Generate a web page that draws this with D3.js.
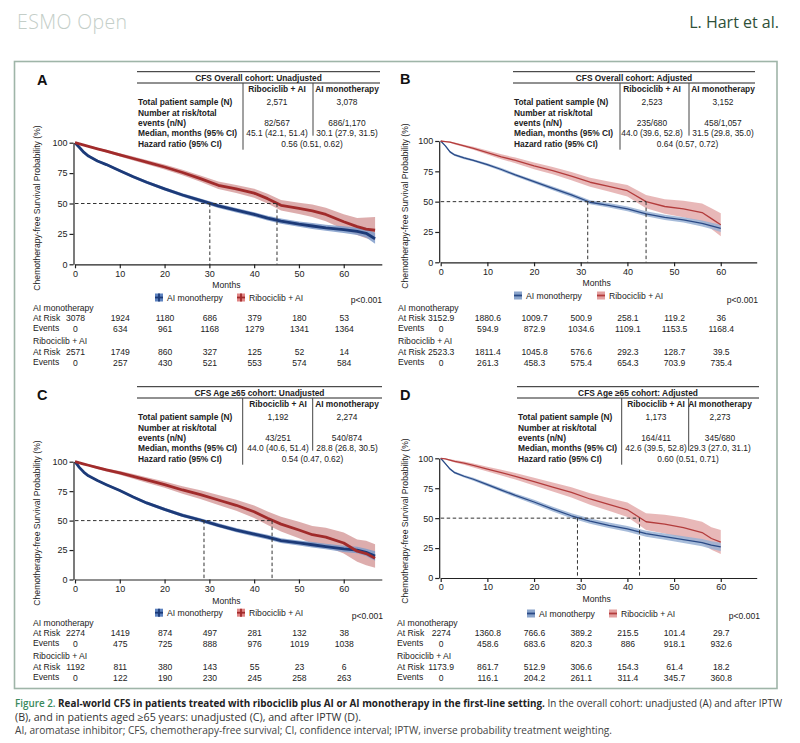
<!DOCTYPE html>
<html>
<head>
<meta charset="utf-8">
<script src="https://cdn.jsdelivr.net/npm/d3@7"></script>
<style>
  body { margin: 0; background: #fff; }
  svg text { font-family: "Liberation Sans", Arial, sans-serif; fill: #222; }
  svg text.serifless { font-family: "Open Sans", sans-serif; }
</style>
</head>
<body>
<svg id="fig" width="800" height="743"></svg>
<script>
// ---- shared ticks
var monthTicks = [0, 10, 20, 30, 40, 50, 60];
var survTicks = [0, 25, 50, 75, 100];
var tableRowLabels = ["Total patient sample (N)", "Number at risk/total", "events (n/N)", "Median, months (95% CI)", "Hazard ratio (95% CI)"];
var armNames = ["Ribociclib + AI", "AI monotherapy"];
var legendNames = ["AI monotherpy", "Ribociclib + AI"];

// ---- A: overall cohort, unadjusted
var aMonths = [0, 1, 2, 3, 5, 7, 10, 13, 16, 20, 24, 28, 32, 36, 40, 43, 46, 50, 53, 56, 60, 63, 65, 67];
var aAiSurv = [100, 96, 92, 89, 85, 82, 77, 72, 67.5, 62, 57, 52.5, 48, 44.5, 41, 38, 35.5, 33, 31.5, 30, 28.5, 27, 25.5, 21];
var aAiLo = [100, 95.5, 91.3, 88.2, 84.1, 81, 75.9, 70.8, 66.2, 60.6, 55.5, 50.9, 46.3, 42.7, 39.1, 36, 33.4, 30.8, 29.1, 27.5, 25.8, 24, 22, 17];
var aAiHi = [100, 96.5, 92.7, 89.8, 85.9, 83, 78.1, 73.2, 68.8, 63.4, 58.5, 54.1, 49.7, 46.3, 42.9, 40, 37.6, 35.2, 33.9, 32.5, 31.2, 30, 29, 26];
var aRibSurv = [100, 99, 98, 97, 95, 93, 90, 87, 84, 80, 75.5, 70.5, 65, 62, 58.5, 54, 48.5, 46, 44, 41, 35, 31, 29, 28];
var aRibLo = [100, 98.6, 97.4, 96.3, 94.1, 91.9, 88.6, 85.4, 82.2, 78, 73.2, 67.9, 62, 58.7, 54.8, 50, 44.2, 41.3, 38.9, 35.4, 28.8, 24, 21.5, 20];
var aRibHi = [100, 99.4, 98.6, 97.7, 95.9, 94.1, 91.4, 88.6, 85.8, 82, 77.8, 73.1, 68, 65.3, 62.2, 58, 52.8, 50.7, 49.1, 46.6, 41.2, 38, 38.5, 39];
var aMedians = [45.1, 30.1];
var aTitle = "CFS Overall cohort: Unadjusted";
var aN = ["2,571", "3,078"];
var aRiskEvents = ["82/567", "686/1,170"];
var aMedianText = ["45.1 (42.1, 51.4)", "30.1 (27.9, 31.5)"];
var aHazard = "0.56 (0.51, 0.62)";
var aRiskAI = [3078, 1924, 1180, 686, 379, 180, 53];
var aEventsAI = [0, 634, 961, 1168, 1279, 1341, 1364];
var aRiskRib = [2571, 1749, 860, 327, 125, 52, 14];
var aEventsRib = [0, 257, 430, 521, 553, 574, 584];

// ---- B: overall cohort, adjusted
var bMonths = [0, 1, 2, 3, 5, 7, 10, 13, 16, 20, 24, 28, 32, 36, 40, 44, 48, 52, 56, 58, 60];
var bAiSurv = [100, 96, 91, 88.5, 86, 84, 80.5, 76.5, 72, 66.5, 61, 55.5, 49.5, 47, 44, 40, 37, 35, 32, 30, 28];
var bAiLo = [100, 95.5, 90.2, 87.6, 85, 83, 79.4, 75.3, 70.7, 65.1, 59.5, 53.9, 47.8, 45.2, 42.1, 38, 34.9, 32.8, 29.6, 27.4, 25];
var bAiHi = [100, 96.5, 91.8, 89.4, 87, 85, 81.6, 77.7, 73.3, 67.9, 62.5, 57.1, 51.2, 48.8, 45.9, 42, 39.1, 37.2, 34.4, 32.6, 31];
var bRibSurv = [100, 99.5, 99, 98, 96, 94, 90.5, 87, 84, 79.5, 75.5, 71, 66, 62.5, 59, 50, 46, 44, 41, 36, 31];
var bRibLo = [100, 99.2, 98.5, 97.2, 95, 92.7, 88.8, 85, 81.7, 76.8, 72.5, 67.6, 62.2, 58.3, 54.2, 44.5, 40, 37.2, 33.5, 27.5, 21.5];
var bRibHi = [100, 99.8, 99.5, 98.8, 97, 95.3, 92.2, 89, 86.3, 82.2, 78.5, 74.4, 69.8, 66.7, 63.8, 55.5, 52, 50.8, 48.5, 44.5, 40.5];
var bMedians = [44.0, 31.5];
var bTitle = "CFS Overall cohort: Adjusted";
var bN = ["2,523", "3,152"];
var bRiskEvents = ["235/680", "458/1,057"];
var bMedianText = ["44.0 (39.6, 52.8)", "31.5 (29.8, 35.0)"];
var bHazard = "0.64 (0.57, 0.72)";
var bRiskAI = ["3152.9", "1880.6", "1009.7", "500.9", "258.1", "119.2", "36"];
var bEventsAI = ["0", "594.9", "872.9", "1034.6", "1109.1", "1153.5", "1168.4"];
var bRiskRib = ["2523.3", "1811.4", "1045.8", "576.6", "292.3", "128.7", "39.5"];
var bEventsRib = ["0", "261.3", "458.3", "575.4", "654.3", "703.9", "735.4"];

// ---- C: age >=65, unadjusted
var cMonths = [0, 1, 2, 3, 5, 7, 10, 13, 16, 20, 24, 28, 32, 36, 40, 43, 46, 50, 53, 56, 60, 63, 65, 67];
var cAiSurv = [100, 95, 91, 88, 84, 80.5, 75.5, 70, 65, 59.5, 54.5, 50.5, 46, 42, 38.5, 36, 33, 31, 29.5, 28, 26, 25, 23, 20];
var cAiLo = [100, 94.5, 90.3, 87.2, 83.1, 79.5, 74.4, 68.8, 63.7, 58.1, 53, 48.9, 44.3, 40.2, 36.6, 34, 30.9, 28.8, 27.2, 25.6, 23.4, 22.2, 20, 16];
var cAiHi = [100, 95.5, 91.7, 88.8, 84.9, 81.5, 76.6, 71.2, 66.3, 60.9, 56, 52.1, 47.7, 43.8, 40.4, 38, 35.1, 33.2, 31.8, 30.4, 28.6, 27.8, 26, 24];
var cRibSurv = [100, 99, 98, 97, 95, 93, 90.5, 87.5, 84.5, 80.5, 76, 72, 67.5, 63, 57.5, 52, 47, 42, 38, 36, 31, 24, 22, 18];
var cRibLo = [100, 98.6, 97.4, 96.2, 93.9, 91.7, 88.9, 85.5, 82.2, 77.8, 72.8, 68.3, 63.3, 58.3, 52.2, 46.2, 40.7, 35, 30.5, 28, 22, 15, 12, 10];
var cRibHi = [100, 99.4, 98.6, 97.8, 96.1, 94.3, 92.1, 89.5, 86.8, 83.2, 79.2, 75.7, 71.7, 67.7, 62.8, 57.8, 53.3, 49, 45.5, 44, 40, 34, 33, 30];
var cMedians = [44.0, 28.8];
var cTitle = "CFS Age \u226565 cohort: Unadjusted";
var cN = ["1,192", "2,274"];
var cRiskEvents = ["43/251", "540/874"];
var cMedianText = ["44.0 (40.6, 51.4)", "28.8 (26.8, 30.5)"];
var cHazard = "0.54 (0.47, 0.62)";
var cRiskAI = [2274, 1419, 874, 497, 281, 132, 38];
var cEventsAI = [0, 475, 725, 888, 976, 1019, 1038];
var cRiskRib = [1192, 811, 380, 143, 55, 23, 6];
var cEventsRib = [0, 122, 190, 230, 245, 258, 263];

// ---- D: age >=65, adjusted
var dMonths = [0, 1, 2, 3, 5, 7, 10, 13, 16, 20, 24, 28, 32, 36, 40, 44, 48, 52, 56, 58, 60];
var dAiSurv = [100, 95.5, 91, 88, 85, 82.5, 78, 73.5, 69, 63.5, 57.5, 52, 47.5, 44, 41, 37, 34.5, 32, 29.5, 27.5, 26];
var dAiLo = [100, 95, 90.2, 87, 83.9, 81.3, 76.7, 72, 67.4, 61.7, 55.5, 49.9, 45.3, 41.7, 38.6, 34.5, 31.9, 29.2, 26.5, 24.3, 22.5];
var dAiHi = [100, 96, 91.8, 89, 86.1, 83.7, 79.3, 75, 70.6, 65.3, 59.5, 54.1, 49.7, 46.3, 43.4, 39.5, 37.1, 34.8, 32.5, 30.7, 29.5];
var dRibSurv = [100, 99.5, 98.5, 97.5, 96, 94, 91, 88, 85, 80.5, 76, 71.5, 66, 61.5, 57, 47, 45, 42, 38, 33, 30];
var dRibLo = [100, 99.1, 97.8, 96.5, 94.7, 92.4, 89, 85.6, 82.2, 77.2, 72.2, 67.2, 61.2, 56.1, 51, 40, 37.2, 33.5, 29, 23.5, 20];
var dRibHi = [100, 99.9, 99.2, 98.5, 97.3, 95.6, 93, 90.4, 87.8, 83.8, 79.8, 75.8, 70.8, 66.9, 63, 54, 52.8, 50.5, 47, 42.5, 40];
var dMedians = [42.6, 29.3];
var dTitle = "CFS Age \u226565 cohort: Adjusted";
var dN = ["1,173", "2,273"];
var dRiskEvents = ["164/411", "345/680"];
var dMedianText = ["42.6 (39.5, 52.8)", "29.3 (27.0, 31.1)"];
var dHazard = "0.60 (0.51, 0.71)";
var dRiskAI = ["2274", "1360.8", "766.6", "389.2", "215.5", "101.4", "29.7"];
var dEventsAI = ["0", "458.6", "683.6", "820.3", "886", "918.1", "932.6"];
var dRiskRib = ["1173.9", "861.7", "512.9", "306.6", "154.3", "61.4", "18.2"];
var dEventsRib = ["0", "116.1", "204.2", "261.1", "311.4", "345.7", "360.8"];

var svg = d3.select("#fig");

// unadjusted panels: thick curves (dense censor marks); adjusted: thin lines with CI bands
var styles = {
  unadj: { ai: "#1c3a78", rib: "#a12b2b", aiBand: "#7f9bc9", ribBand: "#cf8a8a", width: 2.8, aiBox: "#5d82bf", ribBox: "#e08585" },
  adj: { ai: "#2a4a86", rib: "#b33c3c", aiBand: "#98b0d4", ribBand: "#e2a6a6", width: 1.3, aiBox: "#8aa4cb", ribBox: "#e3a0a0" }
};

function drawPanel(o) {
  var st = styles[o.kind];
  var x = d3.scaleLinear().domain([0, o.xMax]).range([o.x0, o.x1]);
  var y = d3.scaleLinear().domain([0, 100]).range([o.yBot, o.yTop]);
  var g = svg.append("g");

  g.append("text").attr("x", o.letterX).attr("y", o.letterY).text(o.letter)
    .style("font-size", "14.5px").style("font-weight", "bold").style("fill", "#111");

  // summary table
  var t = o.table, T = t.top;
  g.append("line").attr("x1", t.left).attr("x2", t.right).attr("y1", T).attr("y2", T).attr("stroke", "#222").attr("stroke-width", 1);
  g.append("line").attr("x1", t.left).attr("x2", t.right).attr("y1", T + 11.3).attr("y2", T + 11.3).attr("stroke", "#222").attr("stroke-width", 1);
  g.append("line").attr("x1", t.sep1).attr("x2", t.sep1).attr("y1", T + 11.3).attr("y2", T + 78).attr("stroke", "#444").attr("stroke-width", 1);
  g.append("line").attr("x1", t.sep2).attr("x2", t.sep2).attr("y1", T + 11.3).attr("y2", T + 64).attr("stroke", "#444").attr("stroke-width", 1);
  var tb = g.append("g").style("font-size", "8.4px");
  tb.append("text").attr("x", (t.left + t.right) / 2).attr("y", T + 6.3).attr("dy", "0.35em")
    .attr("text-anchor", "middle").style("font-weight", "bold").text(o.title);
  tb.selectAll("text.arm").data(armNames).enter().append("text").attr("class", "arm")
    .attr("x", function(d, i) { return i ? t.c2 : t.c1; }).attr("y", T + 17.5).attr("dy", "0.35em")
    .attr("text-anchor", "middle").style("font-weight", "bold").text(function(d) { return d; });
  var rowY = [30, 41, 51, 61, 72.5];
  tb.selectAll("text.rowlab").data(tableRowLabels).enter().append("text").attr("class", "rowlab")
    .attr("x", t.left + 1).attr("y", function(d, i) { return T + rowY[i]; }).attr("dy", "0.35em")
    .style("font-weight", "bold").text(function(d) { return d; });
  [[o.n, 0], [o.riskEvents, 2], [o.medianText, 3]].forEach(function(r) {
    r[0].forEach(function(v, i) {
      tb.append("text").attr("x", i ? t.c2 : t.c1).attr("y", T + rowY[r[1]]).attr("dy", "0.35em")
        .attr("text-anchor", "middle").text(v);
    });
  });
  tb.append("text").attr("x", (t.c1 + t.c2) / 2).attr("y", T + rowY[4]).attr("dy", "0.35em")
    .attr("text-anchor", "middle").text(o.hazard);

  // CI bands and curves
  var area = d3.area().x(function(d) { return x(d[0]); }).y0(function(d) { return y(d[1]); }).y1(function(d) { return y(d[2]); });
  var line = d3.line().x(function(d) { return x(d[0]); }).y(function(d) { return y(d[1]); });
  function band(lo, hi) { return o.months.map(function(m, i) { return [m, lo[i], hi[i]]; }); }
  function curve(s) { return o.months.map(function(m, i) { return [m, s[i]]; }); }
  g.append("path").attr("d", area(band(o.ribLo, o.ribHi))).attr("fill", st.ribBand).attr("opacity", o.kind == "adj" ? 0.8 : 0.7);
  g.append("path").attr("d", area(band(o.aiLo, o.aiHi))).attr("fill", st.aiBand).attr("opacity", 0.85);
  g.append("path").attr("d", line(curve(o.aiSurv))).attr("fill", "none").attr("stroke", st.ai).attr("stroke-width", st.width).attr("stroke-linejoin", "round");
  g.append("path").attr("d", line(curve(o.ribSurv))).attr("fill", "none").attr("stroke", st.rib).attr("stroke-width", st.width).attr("stroke-linejoin", "round");

  // median guides
  var dash = "3.5,2.5";
  g.append("line").attr("x1", x(0)).attr("x2", x(o.medians[0])).attr("y1", y(50)).attr("y2", y(50))
    .attr("stroke", "#333").attr("stroke-width", 1).attr("stroke-dasharray", dash);
  g.selectAll("line.med").data(o.medians).enter().append("line").attr("class", "med")
    .attr("x1", function(d) { return x(d); }).attr("x2", function(d) { return x(d); })
    .attr("y1", y(50)).attr("y2", y(0))
    .attr("stroke", "#333").attr("stroke-width", 1).attr("stroke-dasharray", dash);

  // axes
  var ya = g.append("g").attr("transform", "translate(" + (x(0) - 1.5) + ",0)")
    .call(d3.axisLeft(y).tickValues(survTicks).tickSize(4).tickSizeOuter(0).tickPadding(2));
  var xa = g.append("g").attr("transform", "translate(0," + y(0) + ")")
    .call(d3.axisBottom(x).tickValues(monthTicks).tickSize(4).tickSizeOuter(0).tickPadding(2));
  [ya, xa].forEach(function(a) {
    a.selectAll("path,line").attr("stroke", "#222").attr("stroke-width", 1.2);
    a.selectAll("text").style("font-size", "9px").style("font-family", "Liberation Sans, Arial, sans-serif").attr("fill", "#333");
  });
  g.append("text").attr("x", (o.x0 + o.x1) / 2 - 2).attr("y", y(0) + 21).attr("dy", "0.35em").attr("text-anchor", "middle")
    .style("font-size", "8.6px").text("Months");
  g.append("text").attr("transform", "translate(" + o.yLabX + "," + o.yLabY + ") rotate(-90)")
    .attr("text-anchor", "middle").attr("dy", "0.35em").style("font-size", "8.6px").attr("fill", "#333")
    .text("Chemotherapy-free Survival Probability (%)");

  // legend
  var lg = g.append("g").style("font-size", "8.6px");
  [[o.legendX[0], st.aiBox, st.ai, legendNames[0]], [o.legendX[1], st.ribBox, st.rib, legendNames[1]]].forEach(function(l) {
    lg.append("rect").attr("x", l[0]).attr("y", o.legendY - 4).attr("width", 8).attr("height", 8).attr("fill", l[1]);
    lg.append("line").attr("x1", l[0]).attr("x2", l[0] + 8).attr("y1", o.legendY).attr("y2", o.legendY).attr("stroke", l[2]).attr("stroke-width", 1.8);
    if (o.kind == "unadj") {
      lg.append("line").attr("x1", l[0] + 4).attr("x2", l[0] + 4).attr("y1", o.legendY - 4).attr("y2", o.legendY + 4).attr("stroke", l[2]).attr("stroke-width", 1.8);
    }
    lg.append("text").attr("x", l[0] + 12).attr("y", o.legendY).attr("dy", "0.35em").text(l[3]);
  });
  g.append("text").attr("x", o.pX).attr("y", o.pY).attr("dy", "0.35em").attr("text-anchor", "end")
    .style("font-size", "8.6px").text("p<0.001");

  // numbers at risk
  var rk = g.append("g").style("font-size", "8.6px");
  var R = o.riskTop;
  var rowsY = [0, 10, 20.8, 32.5, 43.5, 55];
  rk.append("text").attr("x", o.riskLabX).attr("y", R + rowsY[0]).attr("dy", "0.35em").text("AI monotherapy");
  rk.append("text").attr("x", o.riskLabX).attr("y", R + rowsY[1]).attr("dy", "0.35em").text("At Risk");
  rk.append("text").attr("x", o.riskLabX).attr("y", R + rowsY[2] - 1).attr("dy", "0.35em").text("Events");
  rk.append("text").attr("x", o.riskLabX).attr("y", R + rowsY[3]).attr("dy", "0.35em").text("Ribociclib + AI");
  rk.append("text").attr("x", o.riskLabX).attr("y", R + rowsY[4]).attr("dy", "0.35em").text("At Risk");
  rk.append("text").attr("x", o.riskLabX).attr("y", R + rowsY[5] - 1).attr("dy", "0.35em").text("Events");
  [[o.riskAI, 1], [o.eventsAI, 2], [o.riskRib, 4], [o.eventsRib, 5]].forEach(function(r) {
    rk.selectAll(null).data(r[0]).enter().append("text")
      .attr("x", function(d, i) { return x(monthTicks[i]) + 0.5; })
      .attr("y", R + rowsY[r[1]]).attr("dy", "0.35em").attr("text-anchor", "middle")
      .text(function(d) { return d; });
  });
}

drawPanel({
  kind: "unadj", letter: "A", letterX: 37, letterY: 85,
  x0: 75, x1: 381.8, xMax: 68.5, yBot: 264.3, yTop: 142.7, yLabX: 37, yLabY: 208,
  table: { top: 71.7, left: 137, right: 380, sep1: 243, sep2: 313, c1: 277, c2: 347 },
  title: aTitle, n: aN, riskEvents: aRiskEvents, medianText: aMedianText, hazard: aHazard,
  months: aMonths, aiSurv: aAiSurv, aiLo: aAiLo, aiHi: aAiHi, ribSurv: aRibSurv, ribLo: aRibLo, ribHi: aRibHi, medians: aMedians,
  legendX: [155, 237], legendY: 297.5, pX: 382, pY: 300,
  riskTop: 308.3, riskLabX: 33, riskAI: aRiskAI, eventsAI: aEventsAI, riskRib: aRiskRib, eventsRib: aEventsRib
});
drawPanel({
  kind: "adj", letter: "B", letterX: 400, letterY: 84,
  x0: 440.7, x1: 756.7, xMax: 67.7, yBot: 262.3, yTop: 141, yLabX: 405, yLabY: 206,
  table: { top: 71.7, left: 513, right: 755, sep1: 620, sep2: 689, c1: 652, c2: 723 },
  title: bTitle, n: bN, riskEvents: bRiskEvents, medianText: bMedianText, hazard: bHazard,
  months: bMonths, aiSurv: bAiSurv, aiLo: bAiLo, aiHi: bAiHi, ribSurv: bRibSurv, ribLo: bRibLo, ribHi: bRibHi, medians: bMedians,
  legendX: [514, 597], legendY: 295.5, pX: 758, pY: 300,
  riskTop: 308.3, riskLabX: 398, riskAI: bRiskAI, eventsAI: bEventsAI, riskRib: bRiskRib, eventsRib: bEventsRib
});
drawPanel({
  kind: "unadj", letter: "C", letterX: 37, letterY: 400,
  x0: 75, x1: 381.8, xMax: 68.5, yBot: 579.5, yTop: 461.7, yLabX: 37, yLabY: 523,
  table: { top: 386.7, left: 137, right: 382, sep1: 242.7, sep2: 312.7, c1: 278, c2: 347 },
  title: cTitle, n: cN, riskEvents: cRiskEvents, medianText: cMedianText, hazard: cHazard,
  months: cMonths, aiSurv: cAiSurv, aiLo: cAiLo, aiHi: cAiHi, ribSurv: cRibSurv, ribLo: cRibLo, ribHi: cRibHi, medians: cMedians,
  legendX: [155, 237], legendY: 612.7, pX: 383, pY: 616,
  riskTop: 623.3, riskLabX: 33, riskAI: cRiskAI, eventsAI: cEventsAI, riskRib: cRiskRib, eventsRib: cEventsRib
});
drawPanel({
  kind: "adj", letter: "D", letterX: 400, letterY: 400,
  x0: 440.7, x1: 756.7, xMax: 67.7, yBot: 578, yTop: 458.3, yLabX: 405, yLabY: 521,
  table: { top: 386.7, left: 517, right: 759, sep1: 621.7, sep2: 688.7, c1: 656, c2: 720 },
  title: dTitle, n: dN, riskEvents: dRiskEvents, medianText: dMedianText, hazard: dHazard,
  months: dMonths, aiSurv: dAiSurv, aiLo: dAiLo, aiHi: dAiHi, ribSurv: dRibSurv, ribLo: dRibLo, ribHi: dRibHi, medians: dMedians,
  legendX: [527, 609], legendY: 613.5, pX: 760, pY: 616,
  riskTop: 623.3, riskLabX: 397, riskAI: dRiskAI, eventsAI: dEventsAI, riskRib: dRiskRib, eventsRib: dEventsRib
});

// figure frame and page furniture
svg.append("rect").attr("x", 14.5).attr("y", 61.5).attr("width", 762.5).attr("height", 627)
  .attr("fill", "none").attr("stroke", "#9fb5a8").attr("stroke-width", 1.6);
svg.append("text").attr("class", "serifless").attr("x", 17).attr("y", 29).style("font-size", "19.5px")
  .style("font-weight", 300).style("letter-spacing", "0.4px").style("fill", "#c4cec8").text("ESMO Open");
svg.append("text").attr("class", "serifless").attr("x", 779).attr("y", 28).attr("text-anchor", "end")
  .style("font-size", "16px").style("fill", "#2f5038").text("L. Hart et al.");

var cap = svg.append("g").style("font-size", "10.2px");
var l1 = cap.append("text").attr("class", "serifless").attr("x", 15).attr("y", 707)
  .attr("textLength", 767).attr("lengthAdjust", "spacingAndGlyphs");
l1.append("tspan").style("fill", "#3a8a5c").style("font-weight", 600).text("Figure 2. ");
l1.append("tspan").style("font-weight", 700).style("fill", "#222").text("Real-world CFS in patients treated with ribociclib plus AI or AI monotherapy in the first-line setting.");
l1.append("tspan").style("fill", "#333").text(" In the overall cohort: unadjusted (A) and after IPTW");
cap.append("text").attr("class", "serifless").attr("x", 15).attr("y", 721).style("fill", "#333")
  .attr("textLength", 346).attr("lengthAdjust", "spacingAndGlyphs")
  .text("(B), and in patients aged \u226565 years: unadjusted (C), and after IPTW (D).");
cap.append("text").attr("class", "serifless").attr("x", 15).attr("y", 734).style("fill", "#444")
  .attr("textLength", 597).attr("lengthAdjust", "spacingAndGlyphs")
  .text("AI, aromatase inhibitor; CFS, chemotherapy-free survival; CI, confidence interval; IPTW, inverse probability treatment weighting.");
</script>
</body>
</html>
